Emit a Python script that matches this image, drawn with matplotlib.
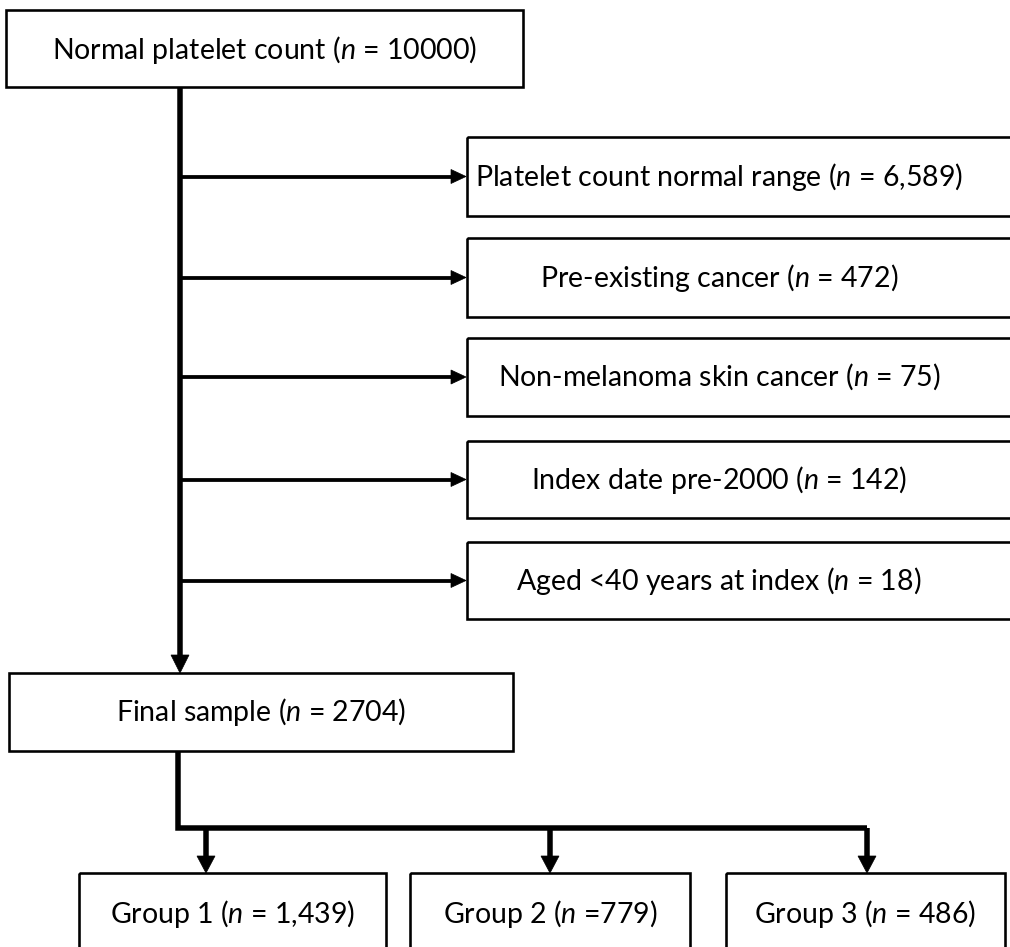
import matplotlib
matplotlib.use("Agg")
import matplotlib.pyplot as plt
from matplotlib.patches import Rectangle, Polygon

plt.rcParams['font.family'] = ['Lato', 'DejaVu Sans']
plt.rcParams['mathtext.fontset'] = 'custom'
plt.rcParams['mathtext.rm'] = 'Lato'
plt.rcParams['mathtext.it'] = 'Lato:italic'

# ---- data ----
top_label = "Normal platelet count"
top_n = "10000"
excl_labels = ["Platelet count normal range", "Pre-existing cancer",
               "Non-melanoma skin cancer", "Index date pre-2000",
               "Aged <40 years at index"]
excl_n = ["6,589", "472", "75", "142", "18"]
final_label = "Final sample"
final_n = "2704"
group_labels = ["Group 1", "Group 2", "Group 3"]
group_n = ["1,439", "779", "486"]
group_eq = [" = ", " =", " = "]

W, H = 1010, 947
fig = plt.figure(figsize=(W / 100, H / 100), dpi=100)
ax = fig.add_axes([0, 0, 1, 1])
ax.set_xlim(0, W)
ax.set_ylim(H, 0)
ax.axis('off')

PX = 0.72  # points per pixel
FS = 20.5


def lbl(name, n, eq=" = "):
    return name + r" ($\mathit{n}$" + eq + n + ")"


def box(x0, y0, x1, y1, text, ty=None):
    ax.add_patch(Rectangle((x0, y0), x1 - x0, y1 - y0, fill=False,
                           ec='black', lw=2.6 * PX, zorder=2))
    cx = (x0 + x1) / 2
    cy = (y0 + y1) / 2 if ty is None else ty
    if text:
        ax.text(cx, cy, text, ha='center', va='center', fontsize=FS, color='black')


def head_down(x, tip, L=18, hw=9):
    ax.add_patch(Polygon([(x - hw, tip - L), (x + hw, tip - L), (x, tip)],
                         closed=True, fc='black', ec='black', lw=0.5, zorder=3))


def head_right(y, tip, L=15, hw=7):
    ax.add_patch(Polygon([(tip - L, y - hw), (tip - L, y + hw), (tip, y)],
                         closed=True, fc='black', ec='black', lw=0.5, zorder=3))


# top box
box(6, 10, 523, 87, lbl(top_label, top_n), ty=50)

# main vertical line
mx = 180
ax.plot([mx, mx], [87, 657], color='black', lw=5.5 * PX, solid_capstyle='butt', zorder=1)
head_down(mx, 673)

# exclusion boxes
ex_top = [137, 238, 338, 441, 542]
ex_bot = [216, 317, 416, 518, 619]
for i, (lab, n) in enumerate(zip(excl_labels, excl_n)):
    y0, y1 = ex_top[i], ex_bot[i]
    cy = (y0 + y1) / 2
    box(467, y0, 1030, y1, "")
    ax.text(719, cy, lbl(lab, n), ha='center', va='center',
            fontsize=FS, color='black')
    ax.plot([mx, 452], [cy, cy], color='black', lw=3.8 * PX, solid_capstyle='butt', zorder=1)
    head_right(cy, 466)

# final box
box(9, 673, 513, 751, lbl(final_label, final_n))

# split lines
sx = 178
hy = 828
ax.plot([sx, sx, 867], [751, hy, hy], color='black', lw=5.5 * PX,
        solid_joinstyle='miter', solid_capstyle='butt', zorder=1)
g_x0 = [79, 410, 726]
g_x1 = [386, 690, 1005]
g_ax = [206, 550, 867]
for i in range(3):
    ax.plot([g_ax[i], g_ax[i]], [hy, 857], color='black', lw=5.5 * PX,
            solid_capstyle='butt', zorder=1)
    head_down(g_ax[i], 873, L=17, hw=9)
    box(g_x0[i], 873, g_x1[i], 970, "")
    ax.text((g_x0[i] + g_x1[i]) / 2, 914, lbl(group_labels[i], group_n[i], group_eq[i]),
            ha='center', va='center', fontsize=FS, color='black')

fig.savefig("out.png", dpi=100)
